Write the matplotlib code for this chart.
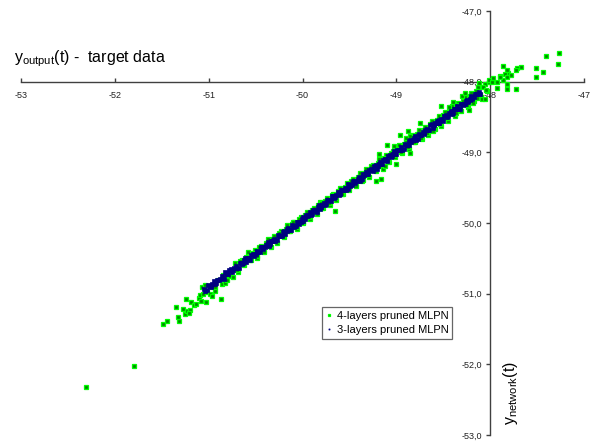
import matplotlib
matplotlib.use("Agg")
import matplotlib.pyplot as plt
from matplotlib.ticker import FixedLocator

plt.rcParams['font.family'] = ['Liberation Sans', 'DejaVu Sans']
plt.rcParams['mathtext.default'] = 'regular'

# ---- data ----
x_ticks = [-53, -52, -51, -50, -49, -48, -47]
x_tick_labels = ['-53', '-52', '-51', '-50', '-49', '-48', '-47']
y_ticks = [-53, -52, -51, -50, -49, -48, -47]
y_tick_labels = ['-53,0', '-52,0', '-51,0', '-50,0', '-49,0', '-48,0', '-47,0']

series_names = ['4-layers pruned MLPN', '3-layers pruned MLPN']

# 4-layers pruned MLPN (target, network)
green_x = [
    -50.72, -50.69, -50.65, -50.62, -50.58, -50.55, -50.51, -50.48, -50.44, -50.41,
    -50.37, -50.34, -50.30, -50.27, -50.23, -50.20, -50.16, -50.13, -50.09, -50.06,
    -50.02, -49.99, -49.95, -49.92, -49.88, -49.85, -49.81, -49.78, -49.74, -49.71,
    -49.67, -49.64, -49.60, -49.57, -49.53, -49.50, -49.46, -49.43, -49.39, -49.36,
    -49.32, -49.29, -49.25, -49.22, -49.18, -49.15, -49.11, -49.08, -49.04, -49.01,
    -48.97, -48.94, -48.90, -48.87, -48.83, -48.80, -48.76, -48.73, -48.69, -48.66,
    -48.62, -48.59, -48.55, -48.52, -48.48, -48.45, -48.41, -48.38, -48.34, -48.31,
    -48.27, -48.24, -48.20, -48.17, -48.13, -48.10, -48.06, -48.03,
    -50.70, -50.67, -50.63, -50.60, -50.56, -50.53, -50.49, -50.46, -50.42, -50.39,
    -50.35, -50.32, -50.28, -50.25, -50.21, -50.18, -50.14, -50.11, -50.07, -50.04,
    -50.00, -49.97, -49.93, -49.90, -49.86, -49.83, -49.79, -49.76, -49.72, -49.69,
    -49.65, -49.62, -49.58, -49.55, -49.51, -49.48, -49.44, -49.41, -49.37, -49.34,
    -49.30, -49.27, -49.23, -49.20, -49.16, -49.13, -49.09, -49.06, -49.02, -48.99,
    -48.95, -48.92, -48.88, -48.85, -48.81, -48.78, -48.74, -48.71, -48.67, -48.64,
    -48.60, -48.57, -48.53, -48.50, -48.46, -48.43, -48.39, -48.36, -48.32, -48.29,
    -48.25, -48.22, -48.18, -48.15, -48.11, -48.08, -48.04, -48.01,
    -52.31, -51.80,
    -51.49, -51.44, -51.32, -51.33, -51.35, -51.25, -51.27, -51.23, -51.20, -51.21,
    -51.24, -51.19, -51.16, -51.13, -51.10, -51.09, -51.08, -51.03, -51.06, -51.02,
    -50.99, -50.96, -51.07, -51.04, -50.99, -50.96, -50.93, -50.93, -50.87, -50.90,
    -50.86, -50.83, -50.80, -50.85, -50.81, -50.77, -50.74,
    -49.65, -49.19, -49.22, -49.16, -49.00, -50.10, -49.80, -48.96, -48.88, -48.85,
    -48.90, -49.10, -49.03, -48.85, -49.14, -49.12, -48.75,
    -48.01, -47.86, -47.81, -47.90, -48.23, -48.21, -48.14, -48.09, -48.52, -48.51,
    -48.61, -47.27, -47.40, -47.28, -47.44, -47.51, -47.51, -47.67, -47.71, -47.72,
    -47.82, -47.78, -47.84, -47.82, -47.82, -47.86, -47.90, -47.82, -47.73, -47.97,
    -47.93, -47.98, -48.05, -47.93,
    -48.44, -48.36, -48.30, -48.18, -48.12, -48.40, -48.27,
]
green_y = [
    -50.57, -50.69, -50.52, -50.60, -50.41, -50.53, -50.38, -50.50, -50.33, -50.41,
    -50.22, -50.34, -50.18, -50.29, -50.12, -50.20, -50.03, -50.12, -49.98, -50.08,
    -49.92, -50.00, -49.84, -49.94, -49.79, -49.87, -49.70, -49.79, -49.64, -49.74,
    -49.59, -49.67, -49.50, -49.59, -49.44, -49.54, -49.38, -49.47, -49.29, -49.39,
    -49.24, -49.35, -49.18, -49.27, -49.10, -49.20, -49.04, -49.14, -48.98, -49.07,
    -48.90, -49.01, -48.84, -48.95, -48.76, -48.86, -48.69, -48.81, -48.64, -48.75,
    -48.56, -48.67, -48.49, -48.63, -48.43, -48.55, -48.35, -48.49, -48.30, -48.42,
    -48.22, -48.36, -48.16, -48.28, -48.08, -48.21, -48.04, -48.13,
    -50.66, -50.54, -50.58, -50.48, -50.53, -50.43, -50.46, -50.34, -50.37, -50.28,
    -50.33, -50.22, -50.26, -50.14, -50.18, -50.08, -50.12, -50.02, -50.06, -49.95,
    -49.98, -49.88, -49.92, -49.81, -49.85, -49.75, -49.79, -49.69, -49.72, -49.61,
    -49.65, -49.55, -49.59, -49.49, -49.52, -49.41, -49.44, -49.35, -49.40, -49.29,
    -49.32, -49.20, -49.24, -49.15, -49.19, -49.08, -49.12, -49.01, -49.04, -48.95,
    -48.99, -48.88, -48.92, -48.80, -48.85, -48.74, -48.80, -48.68, -48.72, -48.60,
    -48.65, -48.54, -48.60, -48.47, -48.52, -48.40, -48.46, -48.33, -48.39, -48.27,
    -48.33, -48.20, -48.25, -48.13, -48.19, -48.08, -48.12, -48.01,
    -52.32, -52.02,
    -51.43, -51.39, -51.39, -51.33, -51.19, -51.29, -51.22, -51.25, -51.23, -51.27,
    -51.08, -51.12, -51.16, -51.15, -51.06, -51.02, -51.10, -51.12, -51.01, -50.97,
    -51.00, -51.03, -50.91, -50.88, -50.89, -50.91, -50.91, -50.96, -51.08, -50.81,
    -50.86, -50.85, -50.80, -50.73, -50.74, -50.75, -50.76,
    -49.83, -49.02, -49.41, -49.38, -49.16, -49.98, -49.71, -48.76, -48.70, -48.77,
    -48.80, -48.89, -48.91, -49.01, -49.24, -49.20, -48.59,
    -47.97, -47.78, -47.88, -47.92, -48.40, -48.28, -48.23, -48.25, -48.35, -48.51,
    -48.70, -47.59, -47.63, -47.75, -47.86, -47.81, -47.93, -47.79, -47.81, -47.84,
    -47.83, -47.90, -47.89, -47.93, -48.03, -47.98, -47.94, -48.10, -48.10, -47.95,
    -48.00, -48.01, -48.25, -48.09,
    -48.36, -48.44, -48.20, -48.30, -48.02, -48.29, -48.16,
]

# 3-layers pruned MLPN (target, network)
blue_x = [
    -51.05, -51.02, -50.99, -50.97, -50.94, -50.92, -50.89, -50.86, -50.84, -50.81,
    -50.79, -50.76, -50.74, -50.71, -50.68, -50.66, -50.63, -50.61, -50.58, -50.56,
    -50.53, -50.50, -50.48, -50.45, -50.43, -50.40, -50.37, -50.35, -50.32, -50.30,
    -50.27, -50.25, -50.22, -50.20, -50.17, -50.15, -50.12, -50.10, -50.07, -50.05,
    -50.02, -50.00, -49.97, -49.95, -49.92, -49.90, -49.87, -49.85, -49.82, -49.80,
    -49.77, -49.75, -49.72, -49.70, -49.67, -49.65, -49.62, -49.60, -49.57, -49.55,
    -49.52, -49.50, -49.47, -49.45, -49.42, -49.40, -49.37, -49.35, -49.32, -49.30,
    -49.27, -49.25, -49.22, -49.20, -49.17, -49.15, -49.12, -49.10, -49.07, -49.05,
    -49.02, -49.00, -48.97, -48.95, -48.92, -48.90, -48.87, -48.85, -48.82, -48.80,
    -48.77, -48.75, -48.72, -48.70, -48.67, -48.65, -48.62, -48.60, -48.57, -48.55,
    -48.52, -48.50, -48.47, -48.45, -48.42, -48.40, -48.37, -48.35, -48.32, -48.30,
    -48.27, -48.25, -48.22, -48.20, -48.17, -48.15, -48.12,
    -51.04, -51.01, -50.98, -50.96, -50.93, -50.91, -50.88, -50.85, -50.83, -50.80,
    -50.78, -50.75, -50.73, -50.70, -50.67, -50.65, -50.62, -50.60, -50.57, -50.55,
    -50.52, -50.49, -50.47, -50.44, -50.42, -50.39, -50.36, -50.34, -50.31, -50.29,
    -50.26, -50.24, -50.21, -50.19, -50.16, -50.14, -50.11, -50.09, -50.06, -50.04,
    -50.01, -49.99, -49.96, -49.94, -49.91, -49.89, -49.86, -49.84, -49.81, -49.79,
    -49.76, -49.74, -49.71, -49.69, -49.66, -49.64, -49.61, -49.59, -49.56, -49.54,
    -49.51, -49.49, -49.46, -49.44, -49.41, -49.39, -49.36, -49.34, -49.31, -49.29,
    -49.26, -49.24, -49.21, -49.19, -49.16, -49.14, -49.11, -49.09, -49.06, -49.04,
    -49.01, -48.99, -48.96, -48.94, -48.91, -48.89, -48.86, -48.84, -48.81, -48.79,
    -48.76, -48.74, -48.71, -48.69, -48.66, -48.64, -48.61, -48.59, -48.56, -48.54,
    -48.51, -48.49, -48.46, -48.44, -48.41, -48.39, -48.36, -48.34, -48.31, -48.29,
    -48.26, -48.24, -48.21, -48.19, -48.16, -48.14, -48.11,
]
blue_y = [
    -50.93, -50.95, -50.89, -50.89, -50.82, -50.85, -50.80, -50.75, -50.79, -50.71,
    -50.72, -50.65, -50.67, -50.61, -50.63, -50.57, -50.57, -50.50, -50.50, -50.52,
    -50.44, -50.44, -50.40, -50.41, -50.34, -50.34, -50.27, -50.30, -50.26, -50.22,
    -50.24, -50.18, -50.18, -50.11, -50.12, -50.07, -50.10, -50.04, -50.04, -49.98,
    -49.98, -49.92, -49.95, -49.90, -49.85, -49.87, -49.82, -49.84, -49.75, -49.77,
    -49.71, -49.73, -49.67, -49.69, -49.62, -49.63, -49.56, -49.59, -49.54, -49.50,
    -49.52, -49.46, -49.46, -49.41, -49.41, -49.35, -49.38, -49.33, -49.28, -49.30,
    -49.24, -49.26, -49.18, -49.20, -49.14, -49.16, -49.10, -49.12, -49.04, -49.05,
    -48.98, -49.02, -48.97, -48.93, -48.95, -48.89, -48.89, -48.83, -48.83, -48.77,
    -48.81, -48.76, -48.71, -48.73, -48.67, -48.69, -48.60, -48.62, -48.56, -48.59,
    -48.53, -48.55, -48.47, -48.48, -48.41, -48.44, -48.39, -48.35, -48.38, -48.32,
    -48.32, -48.26, -48.26, -48.20, -48.22, -48.18, -48.14,
    -50.96, -50.88, -50.90, -50.86, -50.87, -50.80, -50.79, -50.78, -50.70, -50.72,
    -50.67, -50.70, -50.64, -50.64, -50.56, -50.58, -50.52, -50.55, -50.49, -50.45,
    -50.47, -50.41, -50.41, -50.34, -50.37, -50.31, -50.32, -50.25, -50.25, -50.25,
    -50.17, -50.19, -50.13, -50.16, -50.09, -50.10, -50.03, -50.05, -49.99, -50.01,
    -49.95, -49.97, -49.88, -49.89, -49.88, -49.82, -49.83, -49.77, -49.80, -49.74,
    -49.74, -49.68, -49.68, -49.62, -49.65, -49.60, -49.61, -49.54, -49.53, -49.53,
    -49.45, -49.47, -49.41, -49.44, -49.38, -49.40, -49.31, -49.32, -49.31, -49.25,
    -49.25, -49.19, -49.23, -49.17, -49.17, -49.11, -49.11, -49.05, -49.07, -49.03,
    -49.03, -48.97, -48.96, -48.96, -48.88, -48.90, -48.84, -48.86, -48.80, -48.82,
    -48.74, -48.75, -48.74, -48.68, -48.68, -48.62, -48.65, -48.59, -48.59, -48.54,
    -48.54, -48.48, -48.50, -48.45, -48.46, -48.39, -48.38, -48.38, -48.31, -48.33,
    -48.27, -48.29, -48.24, -48.25, -48.17, -48.17, -48.17,
]

title_text = r'$y_{output}$(t) -  target data'
ylabel_text = r'$y_{network}$(t)'

# ---- figure ----
fig = plt.figure(figsize=(5.95, 4.42), dpi=100)
W, H = 595, 442
ax = fig.add_axes([21 / W, (H - 435) / H, 563 / W, 424 / H])
ax.set_xlim(-53, -47)
ax.set_ylim(-53, -47)

ax.plot(green_x, green_y, linestyle='none', marker='s', markersize=2.2,
        markerfacecolor='#008a00', markeredgecolor='#00ff00', markeredgewidth=0.9,
        label=series_names[0], zorder=3)
ax.plot(blue_x, blue_y, linestyle='none', marker='s', markersize=2.4,
        markerfacecolor='#000080', markeredgecolor='#000080', markeredgewidth=0.5,
        label=series_names[1], zorder=4)

spine_color = '#404040'
for side in ('top', 'right'):
    ax.spines[side].set_visible(False)
ax.spines['bottom'].set_position(('data', -48))
ax.spines['left'].set_position(('data', -48))
for side in ('bottom', 'left'):
    ax.spines[side].set_color(spine_color)
    ax.spines[side].set_linewidth(1.0)
    ax.spines[side].set_zorder(1)

ax.xaxis.set_major_locator(FixedLocator(x_ticks))
ax.set_xticklabels(x_tick_labels)
ax.yaxis.set_major_locator(FixedLocator(y_ticks))
ax.set_yticklabels(y_tick_labels)
ax.tick_params(axis='x', direction='in', length=3, width=1, color=spine_color,
               labelsize=6.5, pad=7, labelcolor='#222222')
ax.tick_params(axis='y', direction='out', length=3, width=1, color=spine_color,
               labelsize=6.5, pad=3, labelcolor='#222222')
ax.set_facecolor('none')

leg = ax.legend(loc='upper left', bbox_to_anchor=(0.534, 0.301), borderaxespad=0,
                fontsize=8, frameon=True, fancybox=False, shadow=False,
                handlelength=0.6, handletextpad=0.4, borderpad=0.35,
                labelspacing=0.35)
leg.get_frame().set_edgecolor('#404040')
leg.get_frame().set_linewidth(0.9)
# legend swatches as small as in the original chart
leg.legend_handles[0].set_markersize(1.8)
leg.legend_handles[1].set_markersize(0.8)

fig.text(14 / W, 1 - 62 / H, title_text, fontsize=11.5, va='baseline', ha='left')
fig.text(510 / W, 1 - 393 / H, ylabel_text, fontsize=11.5, rotation=90,
         va='center', ha='center')

fig.savefig('out.png', dpi=100)
